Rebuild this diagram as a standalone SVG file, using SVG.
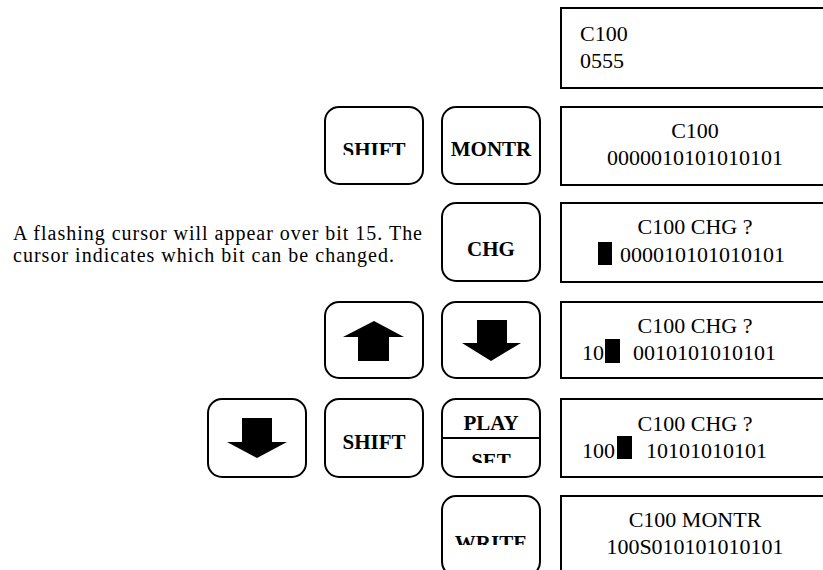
<svg xmlns="http://www.w3.org/2000/svg" width="823" height="570" viewBox="0 0 823 570">
<style>
.disp{fill:#fff;stroke:#000;stroke-width:2}
.key{fill:#fff;stroke:#000;stroke-width:2}
.kt{font-family:"Liberation Serif","Times New Roman",serif;font-weight:bold;font-size:21px;text-anchor:middle;fill:#000}
.dt{font-family:"Liberation Serif","Times New Roman",serif;font-size:22px;fill:#000}
.c{text-anchor:middle}
.note{font-family:"Liberation Serif","Times New Roman",serif;font-size:20px;fill:#000}
.arr{fill:#000}
.cur{fill:#000}
</style>
<defs>
<clipPath id="clipShift1"><rect x="325" y="100" width="98" height="55"/></clipPath>
<clipPath id="clipSet"><rect x="442" y="440" width="98" height="23"/></clipPath>
<clipPath id="clipWrite"><rect x="442" y="500" width="98" height="45"/></clipPath>
</defs>

<g id="disp1"><rect class="disp" x="561" y="8" width="300" height="80"/>
<text class="dt" x="580" y="41">C100</text><text class="dt" x="580" y="68">0555</text></g>

<g id="key-shift1"><rect class="key" x="325" y="107" width="98" height="77" rx="14"/>
<text class="kt" x="374" y="157" clip-path="url(#clipShift1)">SHIFT</text></g>
<g id="key-montr"><rect class="key" x="442" y="107" width="98" height="77" rx="14"/>
<text class="kt" x="491" y="156">MONTR</text></g>
<g id="disp2"><rect class="disp" x="561" y="107" width="300" height="78"/>
<text class="dt c" x="695" y="138">C100</text><text class="dt c" x="695" y="165">0000010101010101</text></g>

<g id="note"><text class="note" x="13" y="240" textLength="409" lengthAdjust="spacing">A flashing cursor will appear over bit 15. The</text>
<text class="note" x="13" y="262" textLength="381" lengthAdjust="spacing">cursor indicates which bit can be changed.</text></g>
<g id="key-chg"><rect class="key" x="442" y="203" width="98" height="78" rx="14"/>
<text class="kt" x="491" y="256">CHG</text></g>
<g id="disp3"><rect class="disp" x="561" y="203" width="300" height="79"/>
<text class="dt c" x="695" y="234">C100 CHG ?</text>
<rect class="cur" x="598" y="242" width="14" height="23"/>
<text class="dt" x="620" y="262">000010101010101</text></g>

<g id="key-up"><rect class="key" x="325" y="302" width="98" height="76" rx="14"/>
<polygon class="arr" points="374,321 404,337 389,337 389,361 358,361 358,337 343,337"/></g>
<g id="key-down1"><rect class="key" x="442" y="302" width="98" height="76" rx="14"/>
<polygon class="arr" points="477,320 507,320 507,343 521,343 491,361 462,343 477,343"/></g>
<g id="disp4"><rect class="disp" x="561" y="302" width="300" height="76"/>
<text class="dt c" x="695" y="333">C100 CHG ?</text>
<text class="dt" x="582" y="360">10</text>
<rect class="cur" x="605" y="339" width="15" height="24"/>
<text class="dt" x="633" y="360">0010101010101</text></g>

<g id="key-down2"><rect class="key" x="208" y="399" width="98" height="78" rx="14"/>
<polygon class="arr" points="242,418 272,418 272,442 287,442 257,458 227,442 242,442"/></g>
<g id="key-shift2"><rect class="key" x="325" y="399" width="98" height="78" rx="14"/>
<text class="kt" x="374" y="449">SHIFT</text></g>
<g id="key-playset"><rect class="key" x="442" y="399" width="98" height="78" rx="14"/>
<line x1="442" y1="438" x2="540" y2="438" stroke="#000" stroke-width="2"/>
<text class="kt" x="491" y="430">PLAY</text>
<text class="kt" x="491" y="468" clip-path="url(#clipSet)">SET</text></g>
<g id="disp5"><rect class="disp" x="561" y="399" width="300" height="78"/>
<text class="dt c" x="695" y="431">C100 CHG ?</text>
<text class="dt" x="582" y="458">100</text>
<rect class="cur" x="617" y="436" width="15" height="23"/>
<text class="dt" x="646" y="458">10101010101</text></g>

<g id="key-write"><rect class="key" x="442" y="496" width="98" height="80" rx="14"/>
<text class="kt" x="491" y="550" clip-path="url(#clipWrite)">WRITE</text></g>
<g id="disp6"><rect class="disp" x="561" y="496" width="300" height="80"/>
<text class="dt c" x="695" y="527">C100 MONTR</text><text class="dt c" x="695" y="554">100S010101010101</text></g>
<g id="connectors"/>
</svg>
